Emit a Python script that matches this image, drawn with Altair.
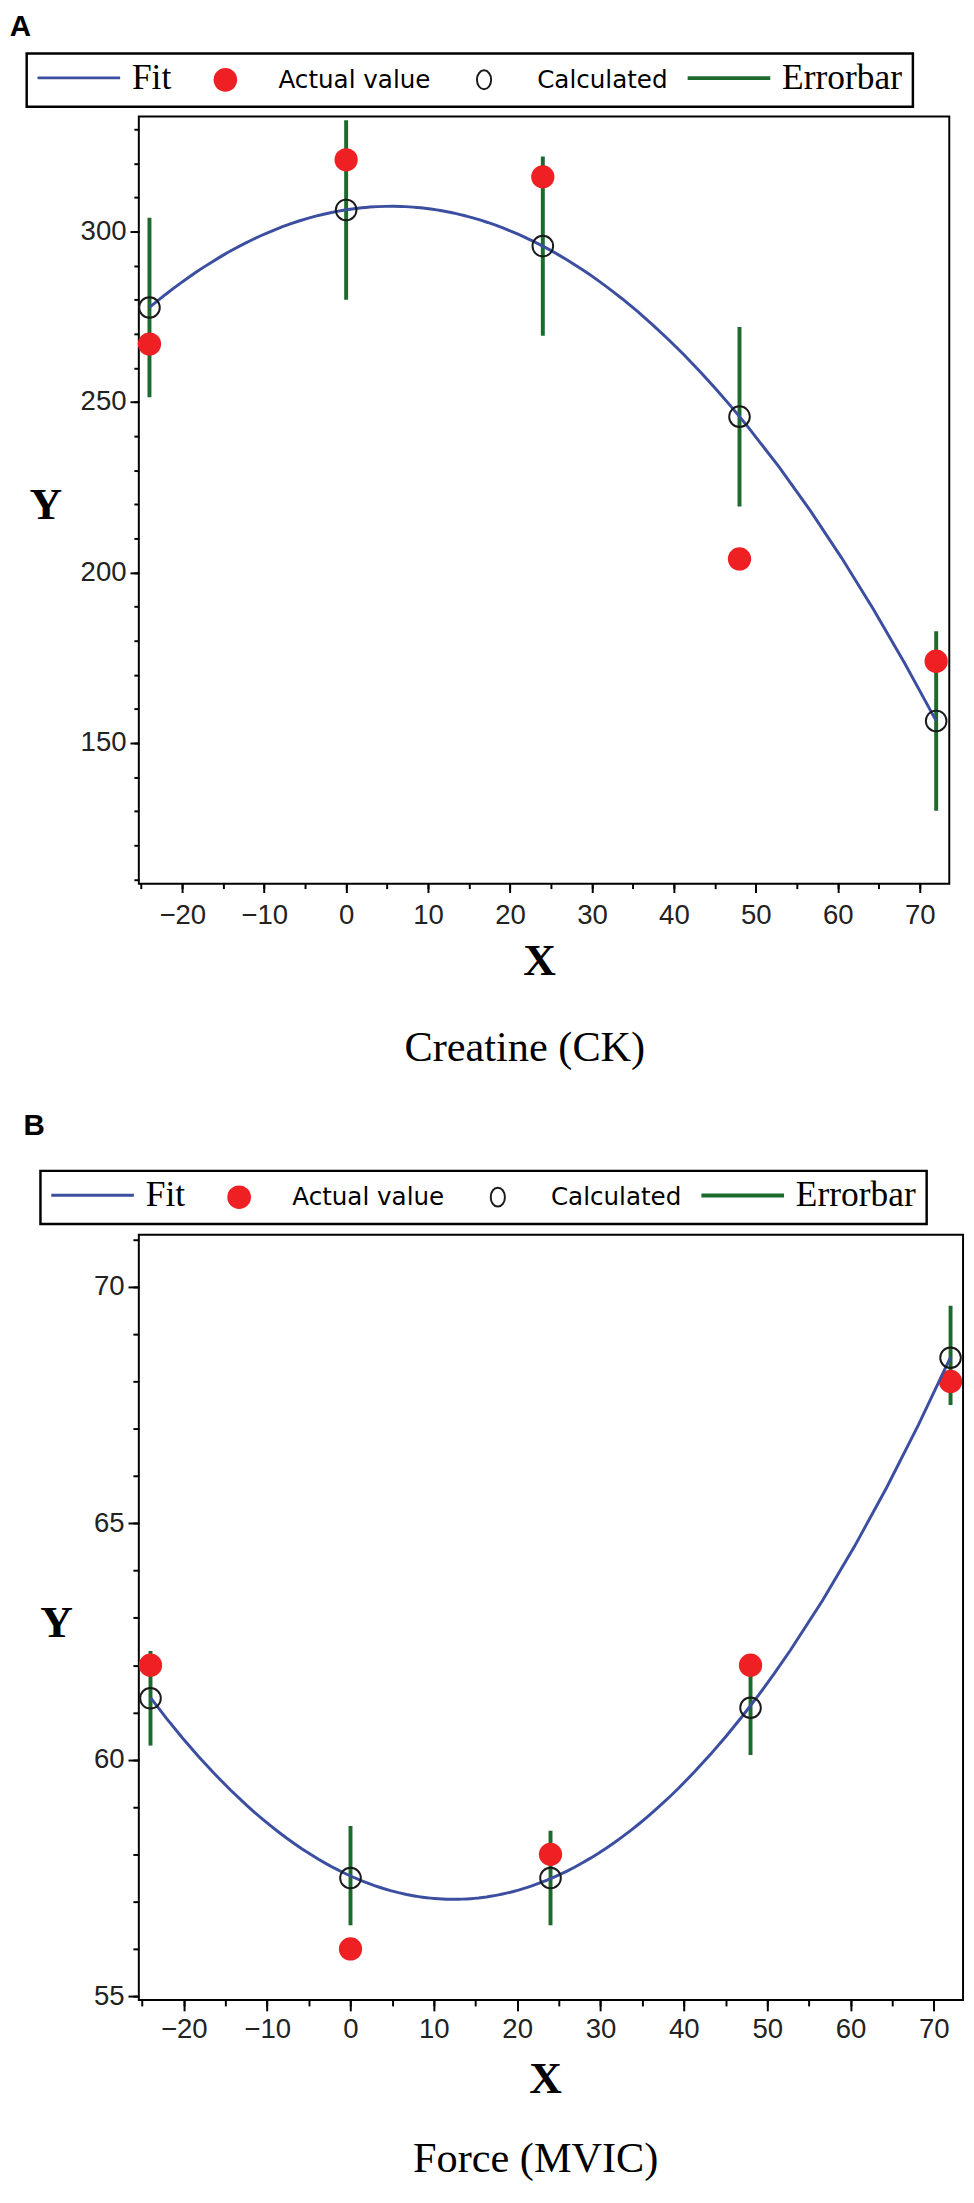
import altair as alt
import pandas as pd

# ---------------- data ----------------
x_hours = [-24, 0, 24, 48, 72]

ck_actual = [267, 321, 316, 204, 174]
ck_calculated = [277.7, 306.3, 295.7, 245.7, 156.5]
ck_err_low = [251.4, 280.0, 269.4, 219.4, 130.2]
ck_err_high = [304.0, 332.6, 322.0, 272.0, 182.8]

mvic_actual = [62, 56, 58, 62, 68]
mvic_calculated = [61.3, 57.5, 57.5, 61.1, 68.5]
mvic_err_low = [60.3, 56.5, 56.5, 60.1, 67.5]
mvic_err_high = [62.3, 58.6, 58.5, 62.1, 69.6]

series_names = ["Fit", "Actual value", "Calculated", "Errorbar"]
series_colors = ["#3b4ea0", "#ee2024", "#1a1a1a", "#1c6a2c"]
LINE_SYM = "M-3.5,0H3.5"
O_SYM = "M0,-0.8A0.6,0.8 0 1,1 0,0.8A0.6,0.8 0 1,1 0,-0.8Z"
series_shapes = [LINE_SYM, "circle", O_SYM, LINE_SYM]
series_fills = ["transparent", "#ee2024", "transparent", "transparent"]
series_widths = [3, 0, 2, 4]

x_major = [-20, -10, 0, 10, 20, 30, 40, 50, 60, 70]
x_minor = [-25, -20, -15, -10, -5, 0, 5, 10, 15, 20, 25, 30, 35, 40, 45, 50, 55, 60, 65, 70]
ck_y_major = [150, 200, 250, 300]
ck_y_minor = [110, 120, 130, 140, 150, 160, 170, 180, 190, 200, 210, 220,
              230, 240, 250, 260, 270, 280, 290, 300, 310, 320, 330]
mvic_y_major = [55, 60, 65, 70]
mvic_y_minor = [55, 56, 57, 58, 59, 60, 61, 62, 63, 64, 65, 66, 67, 68, 69, 70, 71]

SERIF = "Liberation Serif"
SANS = "Liberation Sans"
LEG_FONT = {"expr": "datum.label == 'Fit' || datum.label == 'Errorbar' ? 'Liberation Serif' : 'DejaVu Sans'"}
LEG_SIZE = {"expr": "datum.label == 'Fit' || datum.label == 'Errorbar' ? 36 : 25"}


def panel(letter, caption, actual, calc, lo, hi, cfg):
    df_a = pd.DataFrame({"x": x_hours, "y": actual, "series": "Actual value"})
    df_c = pd.DataFrame({"x": x_hours, "y": calc, "series": "Calculated"})
    df_e = pd.DataFrame({"x": x_hours, "lo": lo, "hi": hi, "series": "Errorbar"})

    xs = alt.Scale(domain=cfg["xdom"], nice=False, zero=False)
    ys = alt.Scale(domain=cfg["ydom"], nice=False, zero=False)

    leg = alt.Legend(
        title=None, orient="none", legendX=cfg["lx"], legendY=cfg["ly"],
        direction="horizontal", columns=4, strokeColor="black", fillColor="white",
        padding=11, columnPadding=12, symbolOffset=28, labelOffset=40, labelLimit=400,
        labelFont=LEG_FONT, labelFontSize=LEG_SIZE, labelColor="black",
        labelBaseline="middle", symbolOpacity=1, symbolSize=576,
    )
    stroke = alt.Stroke("series:N", scale=alt.Scale(domain=series_names, range=series_colors), legend=leg)
    swidth = alt.StrokeWidth("series:N", scale=alt.Scale(type="ordinal", domain=series_names, range=series_widths), legend=leg)
    shape = alt.Shape("series:N", scale=alt.Scale(domain=series_names, range=series_shapes), legend=leg)
    fill = alt.Fill("series:N", scale=alt.Scale(domain=series_names, range=series_fills), legend=leg)

    common_axis = dict(grid=False, domain=False, tickColor="black", tickWidth=2,
                       labelFont=SANS, labelFontSize=28, labelColor="#222222")

    x_major_axis = alt.Axis(values=x_major, tickSize=cfg["tick"], labelPadding=cfg["xpad"],
                            title="X", titleFont=SERIF, titleFontSize=46, titleFontWeight="bold",
                            titleColor="black", titleX=cfg["xtx"], titleY=cfg["xty"],
                            titleAlign="center", titleBaseline="alphabetic",
                            orient="bottom", **common_axis)
    x_minor_axis = alt.Axis(values=x_minor, tickSize=cfg["mtick"], labels=False, grid=False,
                            domain=False, tickColor="black", tickWidth=2, orient="bottom",
                            title=caption, titleFont=SERIF, titleFontSize=43, titleFontWeight="normal",
                            titleColor="black", titleX=cfg["ctx"], titleY=cfg["cty"],
                            titleAlign="center", titleBaseline="alphabetic")
    y_major_axis = alt.Axis(values=cfg["ymaj"], tickSize=cfg["tick"], labelPadding=4,
                            title="Y", titleFont=SERIF, titleFontSize=46, titleFontWeight="bold",
                            titleColor="black", titleAngle=0, titleX=cfg["ytx"], titleY=cfg["yty"],
                            titleAlign="center", titleBaseline="alphabetic",
                            orient="left", **common_axis)
    y_minor_axis = alt.Axis(values=cfg["ymin"], tickSize=cfg["mtick"], labels=False, grid=False,
                            domain=False, tickColor="black", tickWidth=2, orient="left", title=None)

    err = alt.Chart(df_e).mark_rule().encode(
        x=alt.X("x:Q", scale=xs, axis=x_major_axis),
        y=alt.Y("lo:Q", scale=ys, axis=y_major_axis),
        y2="hi:Q",
        stroke=stroke, strokeWidth=swidth,
    )
    act = alt.Chart(df_a).mark_point(opacity=1, size=560).encode(
        x=alt.X("x:Q", scale=xs, axis=None),
        y=alt.Y("y:Q", scale=ys, axis=None),
        stroke=stroke, strokeWidth=swidth, fill=fill, shape=shape,
    )
    fit = alt.Chart(df_a).transform_regression(
        "x", "y", method="poly", order=2
    ).transform_calculate(series="'Fit'").mark_line().encode(
        x=alt.X("x:Q", scale=xs, axis=None),
        y=alt.Y("y:Q", scale=ys, axis=None),
        stroke=stroke, strokeWidth=swidth,
    )
    calc_l = alt.Chart(df_c).mark_point(opacity=1, size=440, shape="circle", filled=False).encode(
        x=alt.X("x:Q", scale=xs, axis=x_minor_axis),
        y=alt.Y("y:Q", scale=ys, axis=y_minor_axis),
        stroke=stroke, strokeWidth=swidth,
    )

    return alt.layer(err, act, fit, calc_l).resolve_axis(
        x="independent", y="independent"
    ).properties(
        width=cfg["w"], height=cfg["h"],
        title=alt.Title(letter, anchor="start", orient="top", font=SANS, fontWeight="bold",
                        fontSize=30, color="black", dx=-16, offset=cfg["toff"]),
    )


cfg_a = dict(xdom=[-25.3, 73.6], ydom=[108.8, 333.7], w=824, h=780, lx=-114, ly=-64,
             tick=9, mtick=5, xpad=10, xtx=407, xty=92, ctx=392, cty=180,
             ytx=-95, yty=409, ymaj=ck_y_major, ymin=ck_y_minor, toff=11)
cfg_b = dict(xdom=[-25.4, 73.5], ydom=[54.92, 71.1], w=838, h=778, lx=-100, ly=-65,
             tick=11, mtick=6, xpad=5, xtx=413, xty=94, ctx=403, cty=174,
             ytx=-84, yty=408, ymaj=mvic_y_major, ymin=mvic_y_minor, toff=29)

panel_a = panel("A", "Creatine (CK)", ck_actual, ck_calculated, ck_err_low, ck_err_high, cfg_a)
panel_b = panel("B", "Force (MVIC)", mvic_actual, mvic_calculated, mvic_err_low, mvic_err_high, cfg_b)

chart = alt.vconcat(panel_a, panel_b, spacing=40).resolve_scale(
    stroke="independent", strokeWidth="independent", shape="independent",
    fill="independent",
).properties(
    padding={"top": -16, "left": 0, "right": 0, "bottom": 0}
).configure_view(
    stroke="black", strokeWidth=2
).configure_legend(strokeWidth=2.5)

chart.save("out.html", embed_options={"renderer": "svg", "actions": False})
